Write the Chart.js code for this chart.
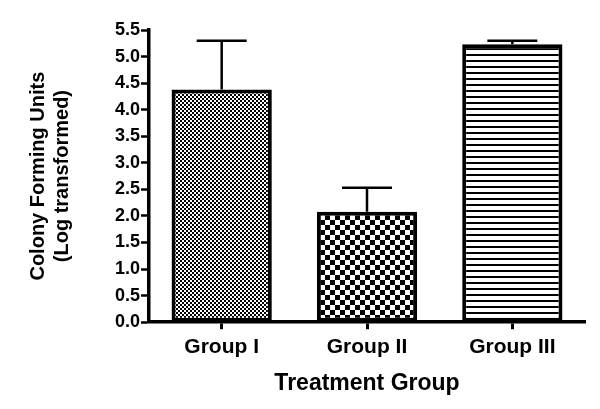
<!DOCTYPE html>
<html>
<head>
<meta charset="utf-8">
<script src="https://cdn.jsdelivr.net/npm/chart.js@4"></script>
<style>
    html, body { margin: 0; padding: 0; background: #fff; }
    #wrap { width: 600px; height: 409px; }
</style>
</head>
<body>
<div id="wrap"><canvas id="cfuChart"></canvas></div>
<script>
const groups = ['Group I', 'Group II', 'Group III'];
const meanValues = [4.38, 2.08, 5.23];
const errorValues = [0.92, 0.45, 0.07];
const yTicks = [0.0, 0.5, 1.0, 1.5, 2.0, 2.5, 3.0, 3.5, 4.0, 4.5, 5.0, 5.5];

// small tiles used as bar fills
function makePattern(size, drawTile) {
    const c = document.createElement('canvas');
    c.width = size;
    c.height = size;
    const g = c.getContext('2d');
    g.fillStyle = '#fff';
    g.fillRect(0, 0, size, size);
    g.fillStyle = '#000';
    drawTile(g);
    return document.getElementById('cfuChart').getContext('2d').createPattern(c, 'repeat');
}

const fineChecker = makePattern(4, function(g) {
    g.fillRect(0, 0, 2, 2);
    g.fillRect(2, 2, 2, 2);
});
const coarseChecker = makePattern(10, function(g) {
    g.fillRect(0, 0, 5, 5);
    g.fillRect(5, 5, 5, 5);
});
const hLines = makePattern(6, function(g) {
    g.fillRect(0, 0, 6, 2);
});

// upper error bars only, as in the original figure
const errorBarPlugin = {
    id: 'errorBars',
    afterDatasetsDraw: function(chart) {
        const ctx = chart.ctx;
        const yScale = chart.scales.y;
        const meta = chart.getDatasetMeta(0);
        ctx.save();
        ctx.strokeStyle = '#000';
        ctx.lineWidth = 2.5;
        meta.data.forEach(function(bar, i) {
            const top = yScale.getPixelForValue(meanValues[i] + errorValues[i]);
            ctx.beginPath();
            ctx.moveTo(bar.x, bar.y);
            ctx.lineTo(bar.x, top);
            ctx.moveTo(bar.x - 25, top);
            ctx.lineTo(bar.x + 25, top);
            ctx.stroke();
        });
        ctx.restore();
    }
};

const boldFont = 'Liberation Sans, Arial, Helvetica, sans-serif';

new Chart(document.getElementById('cfuChart'), {
    type: 'bar',
    data: {
        labels: groups,
        datasets: [{
            data: meanValues,
            backgroundColor: [fineChecker, coarseChecker, hLines],
            borderColor: '#000',
            borderWidth: 4,
            borderSkipped: false,
            barPercentage: 0.69,
            categoryPercentage: 1.0
        }]
    },
    options: {
        responsive: true,
        maintainAspectRatio: false,
        animation: false,
        layout: {
            padding: { left: 22, right: 15, top: 30, bottom: 8 }
        },
        scales: {
            x: {
                grid: {
                    offset: false,
                    drawOnChartArea: false,
                    drawTicks: true,
                    tickLength: 7,
                    tickWidth: 3,
                    color: '#000'
                },
                border: { color: '#000', width: 3.5 },
                ticks: {
                    color: '#000',
                    padding: 5,
                    font: { family: boldFont, size: 21, weight: 'bold' }
                },
                title: {
                    display: true,
                    text: 'Treatment Group',
                    color: '#000',
                    padding: { top: 5 },
                    font: { family: boldFont, size: 23, weight: 'bold' }
                }
            },
            y: {
                min: 0,
                max: 5.5,
                afterBuildTicks: function(axis) {
                    axis.ticks = yTicks.map(function(v) { return { value: v }; });
                },
                grid: {
                    drawOnChartArea: false,
                    drawTicks: true,
                    tickLength: 8,
                    tickWidth: 2.5,
                    color: '#000'
                },
                border: { color: '#000', width: 3.5 },
                ticks: {
                    color: '#000',
                    padding: 1,
                    font: { family: boldFont, size: 18, weight: 'bold' },
                    callback: function(value) {
                        return Number(value).toFixed(1);
                    }
                },
                title: {
                    display: true,
                    text: ['Colony Forming Units', '(Log transformed)'],
                    color: '#000',
                    padding: { bottom: 40 },
                    font: { family: boldFont, size: 20, weight: 'bold', lineHeight: 1.2 }
                }
            }
        },
        plugins: {
            legend: { display: false },
            tooltip: { enabled: false }
        }
    },
    plugins: [errorBarPlugin]
});
</script>
</body>
</html>
